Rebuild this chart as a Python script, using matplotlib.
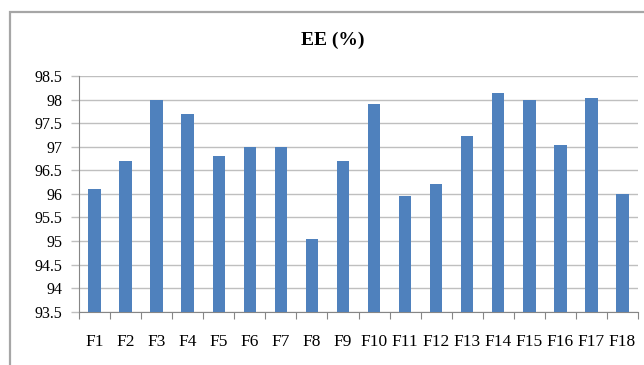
import numpy as np
import matplotlib.pyplot as plt
from matplotlib.patches import Rectangle

# formulation labels and entrapment efficiency values
formulations = ['F1', 'F2', 'F3', 'F4', 'F5', 'F6', 'F7', 'F8', 'F9',
                'F10', 'F11', 'F12', 'F13', 'F14', 'F15', 'F16', 'F17', 'F18']
ee = [96.1, 96.7, 98.0, 97.7, 96.8, 97.0, 97.0, 95.05, 96.7,
      97.9, 95.96, 96.2, 97.23, 98.13, 98.0, 97.04, 98.03, 96.0]
yticks = [93.5, 94, 94.5, 95, 95.5, 96, 96.5, 97, 97.5, 98, 98.5]
ytick_labels = ['93.5', '94', '94.5', '95', '95.5', '96', '96.5', '97', '97.5', '98', '98.5']

plt.rcParams['font.family'] = ['Liberation Serif', 'DejaVu Serif']

W, H = 644, 365
fig = plt.figure(figsize=(W/100, H/100), dpi=100)

# chart area border (runs off the right/bottom like the reference)
fig.patches.append(Rectangle((10/W, -0.05), 1.0, 1 - 12/H + 0.05, transform=fig.transFigure,
                             fill=False, edgecolor='#a6a6a6', linewidth=1.6))

ax = fig.add_axes([79/W, 1 - 311.7/H, (638-79)/W, (311.7-76)/H])
x = np.arange(len(formulations))
ax.bar(x, [v - 93.5 for v in ee], bottom=93.5, width=0.4, color='#4f81bd', zorder=3)

ax.set_ylim(93.5, 98.5)
ax.set_xlim(-0.5, len(formulations) - 0.5)
ax.set_yticks(yticks)
ax.set_yticklabels(ytick_labels, fontsize=11.5)
ax.set_xticks(x)
ax.set_xticklabels(formulations, fontsize=12.5)
ax.tick_params(axis='x', length=0, pad=16)
ax.set_xticks(np.arange(len(formulations) + 1) - 0.5, minor=True)
ax.tick_params(axis='x', which='minor', length=5, color='#868686', width=0.8)
ax.tick_params(axis='y', length=6, color='#bfbfbf', width=1.0, pad=6)
ax.grid(axis='y', color='#bfbfbf', linewidth=1.0, zorder=0)

for s in ['top', 'right']:
    ax.spines[s].set_visible(False)
ax.spines['left'].set_color('#868686')
ax.spines['bottom'].set_color('#868686')

fig.text(333/W, 1 - 40/H, 'EE (%)', ha='center', va='center', fontsize=14, fontweight='bold')

fig.savefig('out.png', dpi=100)
